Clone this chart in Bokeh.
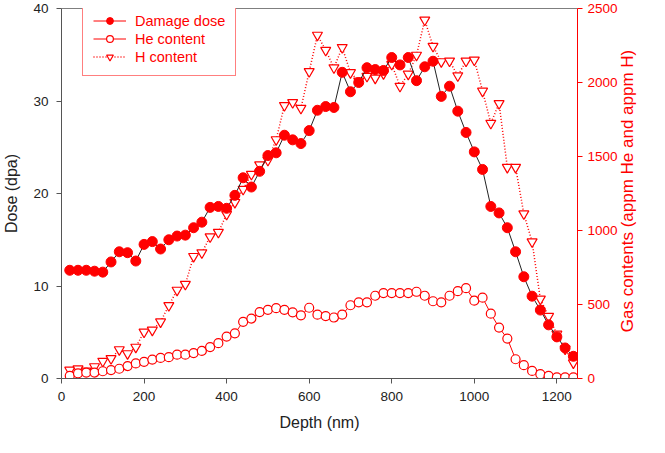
import math
from bokeh.plotting import figure
from bokeh.models import (Range1d, LinearAxis, Legend, LegendItem, Span,
                          FixedTicker, ColumnDataSource)
from bokeh.embed import file_html
from bokeh.resources import INLINE

depth = [20, 40, 60, 80, 100, 120, 140, 160, 180, 200, 220, 240, 260, 280, 300,
         320, 340, 360, 380, 400, 420, 440, 460, 480, 500, 520, 540, 560, 580, 600,
         620, 640, 660, 680, 700, 720, 740, 760, 780, 800, 820, 840, 860, 880, 900,
         920, 940, 960, 980, 1000, 1020, 1040, 1060, 1080, 1100, 1120, 1140, 1160,
         1180, 1200, 1220, 1240]

damage_dose = [11.7, 11.7, 11.7, 11.6, 11.5, 12.6, 13.7, 13.6, 12.7, 14.5, 14.8, 14.0,
               15.0, 15.4, 15.5, 16.3, 16.9, 18.5, 18.6, 18.4, 19.8, 21.7, 20.7, 22.4,
               24.1, 24.4, 26.3, 25.8, 25.4, 26.8, 29.0, 29.4, 29.3, 33.1, 31.0, 32.0,
               33.6, 33.4, 33.3, 34.7, 33.9, 34.7, 32.2, 33.7, 34.3, 30.5, 31.6, 28.9,
               26.6, 24.5, 22.6, 18.6, 17.9, 16.3, 13.7, 11.0, 8.9, 7.4, 5.8, 4.5, 3.3, 2.4]

he_content = [18, 35, 40, 40, 49, 57, 66, 84, 102, 113, 128, 139, 144, 161, 161, 172,
              186, 212, 239, 283, 305, 383, 405, 449, 464, 475, 464, 447, 427, 478, 431,
              422, 412, 432, 495, 515, 515, 559, 577, 577, 577, 577, 586, 559, 522, 515,
              559, 590, 610, 526, 546, 438, 344, 270, 130, 90, 51, 29, 18, 8, 8, 8]

h_content = [57, 66, 51, 80, 117, 135, 195, 168, 212, 314, 327, 383, 493, 597, 637, 825,
             850, 958, 988, 1110, 1190, 1279, 1380, 1444, 1475, 1614, 1845, 1865, 1826,
             2074, 2320, 2218, 2100, 2237, 2067, 2010, 2042, 2030, 2060, 2123, 1975, 2057,
             2185, 2422, 2245, 2141, 2145, 2046, 2145, 2152, 1942, 1725, 1858, 1427, 1427,
             1113, 924, 537, 420, 300, 200, 106]

x_ticks = [0, 200, 400, 600, 800, 1000, 1200]
dose_ticks = [0, 10, 20, 30, 40]
gas_ticks = [0, 500, 1000, 1500, 2000, 2500]
gas_title = "Gas contents (appm He  and appm H)"

FONT = "Liberation Sans"
RED = "#ff0000"

src = ColumnDataSource(dict(depth=depth, dose=damage_dose, he=he_content, h=h_content))

p = figure(width=649, height=437, output_backend="svg", toolbar_location=None,
           x_range=Range1d(0, 1250), y_range=Range1d(0, 40),
           min_border_left=58, min_border_right=66, min_border_top=8,
           min_border_bottom=59)
p.extra_y_ranges = {"gas": Range1d(0, 2500)}
p.grid.visible = False
p.outline_line_color = None
p.background_fill_color = "white"
p.border_fill_color = "white"

# bottom axis
xa = p.xaxis[0]
xa.ticker = FixedTicker(ticks=x_ticks, minor_ticks=[])
xa.axis_label = "Depth (nm)"
# left axis
ya = p.yaxis[0]
ya.ticker = FixedTicker(ticks=dose_ticks, minor_ticks=[])
ya.axis_label = "Dose (dpa)"

for ax in (xa, ya):
    ax.axis_line_color = "#555555"
    ax.major_tick_line_color = "#555555"
    ax.major_tick_out = 5
    ax.major_tick_in = 0
    ax.minor_tick_out = 0
    ax.minor_tick_in = 0
    ax.major_label_text_font = FONT
    ax.major_label_text_font_size = "13.5px"
    ax.major_label_text_color = "#222222"
    ax.major_label_standoff = 8
    ax.axis_label_text_font = FONT
    ax.axis_label_text_font_size = "16px"
    ax.axis_label_text_font_style = "normal"
    ax.axis_label_text_color = "#222222"
    ax.axis_label_standoff = 10

# right axis (gas contents)
ra = LinearAxis(y_range_name="gas", ticker=FixedTicker(ticks=gas_ticks, minor_ticks=[]))
ra.axis_line_color = RED
ra.major_tick_line_color = RED
ra.major_tick_out = 5
ra.major_tick_in = 0
ra.minor_tick_out = 0
ra.minor_tick_in = 0
ra.major_label_text_font = FONT
ra.major_label_text_font_size = "13.5px"
ra.major_label_text_color = RED
ra.major_label_standoff = 5
p.add_layout(ra, "right")

# right axis title (reads bottom-to-top): carried by a bare axis whose single label
# starts at dose 5 and runs upward
ta = LinearAxis(ticker=FixedTicker(ticks=[5], minor_ticks=[]),
                major_label_overrides={5: gas_title})
ta.axis_line_color = None
ta.major_tick_line_color = None
ta.major_tick_out = 0
ta.major_tick_in = 0
ta.minor_tick_out = 0
ta.minor_tick_in = 0
ta.major_label_orientation = math.pi / 2
ta.major_label_text_font = FONT
ta.major_label_text_font_size = "17px"
ta.major_label_text_color = RED
ta.major_label_standoff = 7
p.add_layout(ta, "right")

# top border line
p.add_layout(Span(location=40, dimension="width", line_color="black", line_width=1))

# H content
h_line = p.line("depth", "h", source=src, y_range_name="gas", line_color=RED,
                line_width=1.5, line_dash="1 2")
h_pts = p.scatter("depth", "h", source=src, y_range_name="gas", marker="inverted_triangle",
                  size=10, line_color=RED, line_width=1.2, fill_color="white")
# He content
he_line = p.line("depth", "he", source=src, y_range_name="gas", line_color=RED,
                 line_width=1)
he_pts = p.scatter("depth", "he", source=src, y_range_name="gas", marker="circle",
                   size=9, line_color=RED, line_width=1.2, fill_color="white")
# Damage dose
dose_line = p.line("depth", "dose", source=src, line_color="#222222", line_width=1)
dose_pts = p.scatter("depth", "dose", source=src, marker="circle", size=10,
                     line_color=RED, fill_color=RED)

# red line used only for the legend entry of the damage dose
legend_line = p.line(x=[-1000, -900], y=[-10, -10], line_color=RED, line_width=1)

legend = Legend(items=[
    LegendItem(label="Damage dose", renderers=[legend_line, dose_pts]),
    LegendItem(label="He content", renderers=[he_line, he_pts]),
    LegendItem(label="H content", renderers=[h_line, h_pts]),
], location=(21, 302))
legend.border_line_color = RED
legend.border_line_width = 1
legend.background_fill_color = "white"
legend.background_fill_alpha = 1
legend.label_text_color = RED
legend.label_text_font = FONT
legend.label_text_font_size = "14.5px"
legend.glyph_width = 33
legend.glyph_height = 17
legend.label_height = 17
legend.label_standoff = 9
legend.spacing = 1
legend.padding = 10
legend.margin = 0
p.add_layout(legend)

open("out.html", "w").write(file_html(p, INLINE))
